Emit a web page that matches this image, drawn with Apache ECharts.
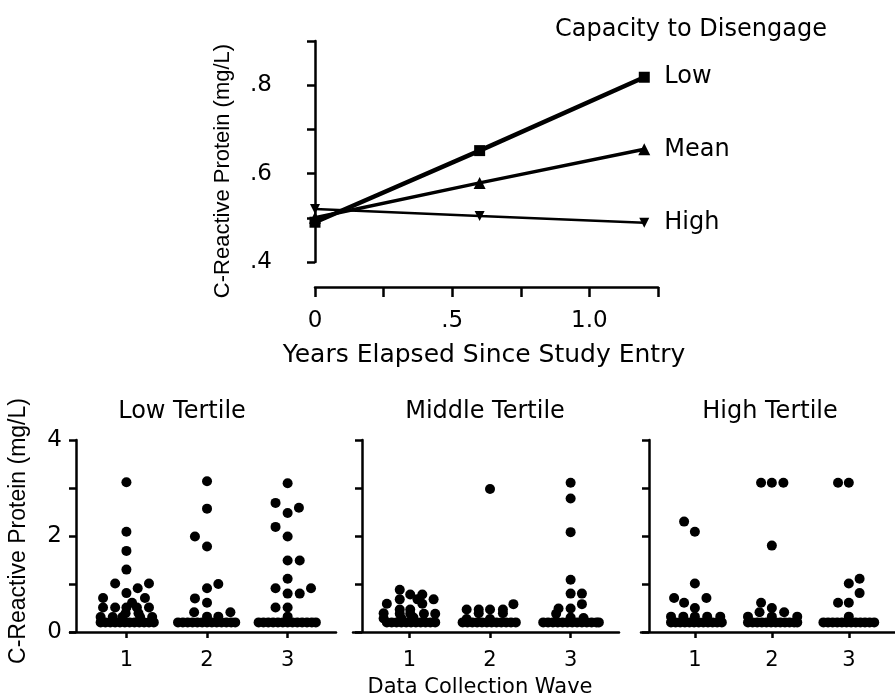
<!DOCTYPE html>
<html>
<head>
<meta charset="utf-8">
<script src="https://cdn.jsdelivr.net/npm/echarts@6/dist/echarts.min.js"></script>
<style>
  html, body { margin: 0; padding: 0; background: #fff; }
  #main { width: 895px; height: 698px; }
</style>
</head>
<body>
<div id="main"></div>
<script>
// top chart: CRP by years since entry, for 3 levels of capacity to disengage
var years = [0, 0.6, 1.2];
var lowCRP = [0.49, 0.652, 0.818];
var meanCRP = [0.50, 0.579, 0.655];
var highCRP = [0.52, 0.504, 0.489];

// bottom panels: one list per wave, each point = [offset from wave, CRP]
var waves = [1, 2, 3];
var lowTertile = [
  [[0,3.12],[0,2.09],[0,1.69],[0,1.30],[-0.14,1.01],[0.28,1.01],[0.14,0.91],[0,0.81],[-0.29,0.71],[0.23,0.71],
   [0.07,0.61],[-0.29,0.51],[-0.14,0.51],[0.28,0.51],[0,0.51],[0.13,0.51],[-0.01,0.39],[0.15,0.39],
   [-0.32,0.31],[-0.17,0.31],[-0.05,0.31],[0.17,0.31],[0.32,0.31],
   [-0.32,0.2],[-0.26,0.2],[-0.2,0.2],[-0.14,0.2],[-0.08,0.2],[-0.02,0.2],[0.04,0.2],[0.1,0.2],[0.16,0.2],[0.22,0.2],[0.28,0.2],[0.34,0.2]],
  [[0,3.14],[0,2.57],[-0.15,1.99],[0,1.78],[0.14,1.0],[0,0.91],[-0.15,0.70],[0,0.61],[-0.16,0.41],[0.29,0.41],[0,0.32],[0.14,0.32],
   [-0.36,0.2],[-0.3,0.2],[-0.24,0.2],[-0.18,0.2],[-0.12,0.2],[-0.06,0.2],[0,0.2],[0.06,0.2],[0.12,0.2],[0.18,0.2],[0.24,0.2],[0.3,0.2],[0.35,0.2]],
  [[0,3.10],[-0.15,2.69],[0,2.48],[0.14,2.59],[-0.15,2.19],[0,1.99],[0,1.49],[0.15,1.49],[0,1.11],[-0.15,0.91],[0.29,0.91],
   [0,0.80],[0.15,0.80],[-0.15,0.51],[0,0.51],[0,0.32],
   [-0.36,0.2],[-0.3,0.2],[-0.24,0.2],[-0.18,0.2],[-0.12,0.2],[-0.06,0.2],[0,0.2],[0.06,0.2],[0.12,0.2],[0.18,0.2],[0.24,0.2],[0.3,0.2],[0.35,0.2]]
];
var middleTertile = [
  [[-0.12,0.88],[0.01,0.78],[0.16,0.78],[-0.12,0.68],[0.1,0.68],[0.3,0.68],[-0.28,0.59],[0.16,0.59],[-0.12,0.47],[0.01,0.47],
   [-0.32,0.39],[-0.12,0.38],[0.01,0.38],[0.18,0.38],[0.32,0.38],[-0.32,0.28],[-0.1,0.28],[0.05,0.3],
   [-0.28,0.2],[-0.22,0.2],[-0.16,0.2],[-0.1,0.2],[-0.04,0.2],[0.02,0.2],[0.08,0.2],[0.14,0.2],[0.2,0.2],[0.26,0.2],[0.32,0.2]],
  [[0,2.98],[0.29,0.58],[-0.29,0.47],[-0.14,0.47],[0,0.47],[0.16,0.47],[-0.14,0.39],[0.16,0.39],[-0.29,0.27],[0,0.27],
   [-0.34,0.2],[-0.28,0.2],[-0.22,0.2],[-0.16,0.2],[-0.1,0.2],[-0.04,0.2],[0.02,0.2],[0.08,0.2],[0.14,0.2],[0.2,0.2],[0.26,0.2],[0.32,0.2]],
  [[0,3.11],[0,2.78],[0,2.08],[0,1.09],[0,0.80],[0.14,0.80],[0.14,0.58],[-0.15,0.49],[0,0.49],[-0.18,0.38],[0,0.3],[0.16,0.29],
   [-0.34,0.2],[-0.28,0.2],[-0.22,0.2],[-0.16,0.2],[-0.1,0.2],[-0.04,0.2],[0.02,0.2],[0.08,0.2],[0.14,0.2],[0.2,0.2],[0.26,0.2],[0.32,0.2],[0.35,0.2]]
];
var highTertile = [
  [[-0.14,2.30],[0,2.09],[0,1.01],[-0.27,0.71],[0.15,0.71],[-0.14,0.61],[0,0.50],
   [-0.31,0.32],[-0.15,0.32],[0,0.32],[0.16,0.32],[0.33,0.32],
   [-0.31,0.2],[-0.25,0.2],[-0.19,0.2],[-0.13,0.2],[-0.07,0.2],[-0.01,0.2],[0.05,0.2],[0.11,0.2],[0.17,0.2],[0.23,0.2],[0.29,0.2],[0.35,0.2]],
  [[-0.14,3.11],[0,3.11],[0.15,3.11],[0,1.80],[-0.14,0.61],[0,0.50],[-0.16,0.41],[0.16,0.41],[-0.31,0.32],[0,0.32],[0.33,0.32],
   [-0.31,0.2],[-0.25,0.2],[-0.19,0.2],[-0.13,0.2],[-0.07,0.2],[-0.01,0.2],[0.05,0.2],[0.11,0.2],[0.17,0.2],[0.23,0.2],[0.29,0.2],[0.33,0.2]],
  [[-0.14,3.11],[0,3.11],[0.14,1.11],[0,1.01],[0.14,0.81],[-0.14,0.61],[0,0.61],[0,0.32],
   [-0.33,0.2],[-0.27,0.2],[-0.21,0.2],[-0.15,0.2],[-0.09,0.2],[-0.03,0.2],[0.03,0.2],[0.09,0.2],[0.15,0.2],[0.21,0.2],[0.27,0.2],[0.33,0.2]]
];
var panelTitles = ['Low Tertile', 'Middle Tertile', 'High Tertile'];

var FONT = 'DejaVu Sans';
var FONT_V = 'Liberation Sans';   // rotated titles
var INK = '#000';

var myChart = echarts.init(document.getElementById('main'));

function pts(xs, ys) {
  return xs.map(function (x, i) { return [x, ys[i]]; });
}
function swarm(tertile) {
  var out = [];
  tertile.forEach(function (list, i) {
    list.forEach(function (p) { out.push([waves[i] + p[0], p[1]]); });
  });
  return out;
}
function label(text, x, y, size, rot, family) {
  return {
    type: 'text', x: x, y: y, rotation: rot || 0,
    style: { text: text, fontSize: size, fontFamily: family || FONT, fill: INK, align: 'center', verticalAlign: 'middle' }
  };
}

var axisLine = { lineStyle: { color: INK, width: 2.5 } };
var topLabels = { '0': '0', '0.5': '.5', '1': '1.0', '0.4': '.4', '0.6': '.6', '0.8': '.8' };

// panel placement: left edge of x axis, y axis drawn a few px inside
var panelLeft = [70, 353, 641];
var panelYOffset = [-6, -9, -8];

var grids = [{ left: 315, top: 41, width: 343, height: 221 }];
var xAxes = [{
  gridIndex: 0, type: 'value', min: 0, max: 1.25, interval: 0.25, offset: 25,
  axisLine: axisLine, splitLine: { show: false },
  axisTick: { show: true, length: 10, lineStyle: { color: INK, width: 2.5 } },
  axisLabel: { customValues: [0, 0.5, 1], margin: 23, fontSize: 23, fontFamily: FONT, color: INK,
    formatter: function (v) { return topLabels[String(v)]; } }
}];
var yAxes = [{
  gridIndex: 0, type: 'value', min: 0.4, max: 0.9, interval: 0.1, offset: 24,
  axisLine: { show: true, lineStyle: { color: INK, width: 2.5 } }, splitLine: { show: false },
  axisTick: { show: true, length: 8, lineStyle: { color: INK, width: 2.5 } },
  axisLabel: { customValues: [0.4, 0.6, 0.8], margin: 19, fontSize: 23, fontFamily: FONT, color: INK,
    formatter: function (v) { return topLabels[String(Math.round(v * 10) / 10)]; } }
}];

for (var k = 0; k < 3; k++) {
  grids.push({ left: panelLeft[k], top: 440, width: 266, bottom: 66 });
  xAxes.push({
    gridIndex: k + 1, type: 'value', min: 0.3, max: 3.6,
    axisLine: axisLine, splitLine: { show: false },
    axisTick: { show: true, customValues: waves, length: 6, lineStyle: { color: INK, width: 2.5 } },
    axisLabel: { customValues: waves, margin: 18, fontSize: 21, fontFamily: FONT, color: INK }
  });
  yAxes.push({
    gridIndex: k + 1, type: 'value', min: 0, max: 4, interval: 1, offset: panelYOffset[k],
    axisLine: { show: true, lineStyle: { color: INK, width: 2.5 } }, splitLine: { show: false },
    axisTick: { show: true, length: 7, lineStyle: { color: INK, width: 2.5 } },
    axisLabel: { show: k === 0, margin: 14, fontSize: 23, fontFamily: FONT, color: INK,
      formatter: function (v) { return v % 2 === 0 ? String(v) : ''; } }
  });
}

function trend(name, ys, symbol, size, width, rotate) {
  return {
    name: name, type: 'line', xAxisIndex: 0, yAxisIndex: 0,
    data: pts(years, ys), symbol: symbol, symbolSize: size, symbolRotate: rotate || 0,
    showAllSymbol: true,
    lineStyle: { color: INK, width: width }, itemStyle: { color: INK },
    endLabel: { show: true, formatter: '{a}', distance: 20, fontSize: 24, fontFamily: FONT, color: INK }
  };
}

var series = [
  trend('High', highCRP, 'triangle', 10, 2.5, 180),
  trend('Mean', meanCRP, 'triangle', 12, 3.5),
  trend('Low', lowCRP, 'rect', 11, 4.5)
];
[lowTertile, middleTertile, highTertile].forEach(function (t, k) {
  series.push({
    type: 'scatter', xAxisIndex: k + 1, yAxisIndex: k + 1,
    data: swarm(t), symbol: 'circle', symbolSize: 10,
    itemStyle: { color: INK, opacity: 1 }
  });
});

var option = {
  animation: false,
  backgroundColor: '#fff',
  grid: grids,
  xAxis: xAxes,
  yAxis: yAxes,
  series: series,
  graphic: [
    label('C-Reactive Protein (mg/L)', 223, 171, 22, Math.PI / 2, FONT_V),
    label('Years Elapsed Since Study Entry', 484, 355, 25),
    label('Capacity to Disengage', 691, 30, 24),
    label(panelTitles[0], 182, 412, 24),
    label(panelTitles[1], 485, 412, 24),
    label(panelTitles[2], 770, 412, 24),
    label('C-Reactive Protein (mg/L)', 19, 531, 23, Math.PI / 2, FONT_V),
    label('Data Collection Wave', 480, 688, 21)
  ]
};
myChart.setOption(option);
</script>
</body>
</html>
